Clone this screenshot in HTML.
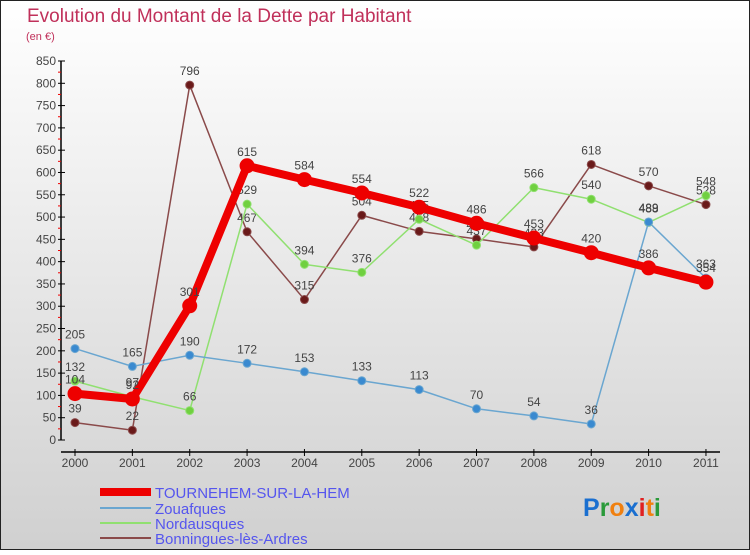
<!DOCTYPE html>
<html><head><meta charset="utf-8"><style>
body{margin:0;width:750px;height:550px;overflow:hidden;font-family:"Liberation Sans",sans-serif}
</style></head><body>
<svg id="c" width="750" height="550" xmlns="http://www.w3.org/2000/svg">
<defs><linearGradient id="bg" x1="0" y1="0" x2="0" y2="1"><stop offset="0" stop-color="#ffffff"/><stop offset="1" stop-color="#d0d0d0"/></linearGradient></defs>
<rect x="0.5" y="0.5" width="749" height="549" fill="url(#bg)" stroke="#222"/>
<text x="27" y="22" font-size="19" fill="#c0305a">Evolution du Montant de la Dette par Habitant</text>
<text x="26" y="40" font-size="11" fill="#c0305a">(en €)</text>
<g id="axes"></g><g id="series"></g>
<g font-size="15" fill="#5555ee">
<line x1="100" y1="492" x2="151" y2="492" stroke="#ee0000" stroke-width="8"/>
<text x="155" y="498">TOURNEHEM-SUR-LA-HEM</text>
<line x1="100" y1="508" x2="151" y2="508" stroke="#6aa6d0" stroke-width="2"/>
<text x="155" y="514">Zouafques</text>
<line x1="100" y1="523" x2="151" y2="523" stroke="#90e070" stroke-width="2"/>
<text x="155" y="529">Nordausques</text>
<line x1="100" y1="538" x2="151" y2="538" stroke="#8a4a4a" stroke-width="2"/>
<text x="155" y="544">Bonningues-lès-Ardres</text>
</g>
<text x="583" y="516" font-size="25" font-weight="bold"><tspan fill="#1a6fd0">P</tspan><tspan fill="#2a9a3a">r</tspan><tspan fill="#f08010">o</tspan><tspan fill="#1a6fd0">x</tspan><tspan fill="#e02020">i</tspan><tspan fill="#f08010">t</tspan><tspan fill="#2a9a3a">i</tspan></text>
</svg>
<script>
const years=["2000","2001","2002","2003","2004","2005","2006","2007","2008","2009","2010","2011"];
const yTicks=[0,50,100,150,200,250,300,350,400,450,500,550,600,650,700,750,800,850];
const tournehem=[104,92,301,615,584,554,522,486,453,420,386,354];
const zouafques=[205,165,190,172,153,133,113,70,54,36,489,363];
const nordausques=[132,97,66,529,394,376,495,437,566,540,488,548];
const bonningues=[39,22,796,467,315,504,468,451,433,618,570,528];
const NS="http://www.w3.org/2000/svg";
const X=i=>75+i*57.36, Y=v=>440-v*379/850;
function mk(t,a,p){const e=document.createElementNS(NS,t);for(const k in a)e.setAttribute(k,a[k]);p.appendChild(e);return e;}
const ax=document.getElementById('axes'), sg=document.getElementById('series');
let yl=mk('line',{x1:61,y1:Y(850),x2:61,y2:440,stroke:'#000','stroke-width':1.5},ax);


yTicks.forEach(v=>{
 let t=mk('line',{x1:58,x2:65,y1:Y(v),y2:Y(v),stroke:'#000'},ax);
 
 
 if(v<850){let m=mk('line',{x1:58,x2:61,y1:Y(v+25),y2:Y(v+25),stroke:'#e00'},ax);
 
 }
 let l=mk('text',{x:56,y:Y(v)+4,'font-size':12,fill:'#444','text-anchor':'end'},ax);l.textContent=v;
 
 
});
let xl=mk('line',{x1:61,y1:452,x2:720,y2:452,stroke:'#000','stroke-width':1.5},ax);


years.forEach((y,i)=>{
 let t=mk('line',{x1:X(i),x2:X(i),y1:449,y2:456,stroke:'#000'},ax);
 
 
 let l=mk('text',{x:X(i),y:467,'font-size':12,fill:'#444','text-anchor':'middle'},ax);l.textContent=y;
 
 
});
function series(d,color,dot,w,r,name){
 const g=mk('g',{},sg);
 
 
 let p=mk('polyline',{points:d.map((v,i)=>X(i)+','+Y(v)).join(' '),fill:'none',stroke:color,'stroke-width':w,'stroke-linejoin':'round'},g);
 
 
 d.forEach((v,i)=>{
  let c=mk('circle',{cx:X(i),cy:Y(v),r:r,fill:dot,stroke:color,'stroke-width':1},g);
  
  
  let t=mk('text',{x:X(i),y:Y(v)-10,'font-size':12,fill:'#444','text-anchor':'middle'},g);t.textContent=v;
  
  
 });
}
series(bonningues,'#8a4a4a','#6a1a1a',1.5,4,'bonningues');
series(nordausques,'#90e070','#70d040',1.5,4,'nordausques');
series(zouafques,'#6aa6d0','#3a8ad0',1.5,4,'zouafques');
series(tournehem,'#ee0000','#ee0000',8,7,'tournehem');
</script>
</body></html>
